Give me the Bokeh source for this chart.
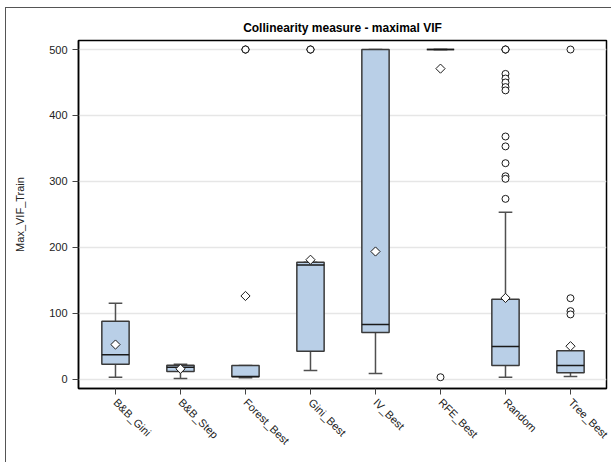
import math
from bokeh.plotting import figure
from bokeh.models import FixedTicker, Range1d, Title
from bokeh.embed import file_html
from bokeh.resources import INLINE

# Box-plot summary of the maximal VIF for each selection method
cats = ["B&B_Gini", "B&B_Step", "Forest_Best", "Gini_Best",
        "IV_Best", "RFE_Best", "Random", "Tree_Best"]
lower = [2.7, 0.8, 2.0, 13.0, 8.3, 500.0, 2.7, 3.8]
q1 = [22.5, 11.4, 3.3, 42.0, 70.6, 500.0, 20.5, 9.4]
median = [37.0, 18.0, 4.0, 173.0, 82.7, 500.0, 49.3, 20.5]
q3 = [87.7, 21.0, 20.5, 177.0, 500.0, 500.0, 121.0, 43.0]
upper = [115.0, 22.5, 20.5, 177.0, 500.0, 500.0, 253.0, 43.0]
mean = [52.3, 15.5, 126.0, 181.0, 193.5, 471.0, 123.0, 49.8]

# Outlying observations per method
outliers = {
    "Forest_Best": [500, 500, 500],
    "Gini_Best": [500, 500, 500],
    "RFE_Best": [2.7],
    "Random": [500, 500, 500, 463, 456, 450, 443, 438,
               368, 353, 327.5, 307.7, 303.8, 273.4],
    "Tree_Best": [500, 122.6, 103, 98],
}
y_ticks = [0, 100, 200, 300, 400, 500]

FONT = "Liberation Sans"
BOX_FILL = "#B9CFE7"
BOX_LINE = "#3A3A3A"
WHISK = "#505050"

xs = list(range(len(cats)))
half_box = 0.21
half_cap = 0.105

p = figure(width=606, height=455, output_backend="svg", toolbar_location=None,
           x_range=Range1d(-0.569, 7.554), y_range=Range1d(-14.4, 513.7),
           min_border_left=72, min_border_right=6, min_border_top=32,
           min_border_bottom=75, background_fill_color="white",
           border_fill_color="white")
p.styles = {"margin-left": "5px", "margin-top": "7px",
            "border-left": "1px solid #555555", "border-top": "1px solid #555555"}

p.title = Title(text="Collinearity measure - maximal VIF", align="center",
                text_font=FONT, text_font_size="12px", text_font_style="bold",
                text_color="black", offset=0, standoff=11)

# whiskers
p.segment(x0=xs, y0=q3, x1=xs, y1=upper, line_color=WHISK, line_width=1.5)
p.segment(x0=xs, y0=q1, x1=xs, y1=lower, line_color=WHISK, line_width=1.5)
p.segment(x0=[x - half_cap for x in xs], y0=upper,
          x1=[x + half_cap for x in xs], y1=upper, line_color=WHISK, line_width=1.5)
p.segment(x0=[x - half_cap for x in xs], y0=lower,
          x1=[x + half_cap for x in xs], y1=lower, line_color=WHISK, line_width=1.5)

# boxes
p.quad(left=[x - half_box for x in xs], right=[x + half_box for x in xs],
       bottom=q1, top=q3, fill_color=BOX_FILL, line_color=BOX_LINE, line_width=1.5)

# medians
p.segment(x0=[x - half_box for x in xs], y0=median,
          x1=[x + half_box for x in xs], y1=median, line_color="#1a1a1a", line_width=1.5)

# outliers
ox, oy = [], []
for name, vals in outliers.items():
    i = cats.index(name)
    for v in vals:
        ox.append(i)
        oy.append(v)
p.scatter(x=ox, y=oy, marker="circle", size=7, fill_color="white",
          line_color="#1a1a1a", line_width=1)

# means as rotated squares
p.scatter(x=xs, y=mean, marker="square", angle=math.pi / 4, size=6.5,
          fill_color="white", line_color="#1a1a1a", line_width=1)

# axes and grid
p.xgrid.grid_line_color = None
p.ygrid.grid_line_color = "#E6E6E6"
p.ygrid.grid_line_width = 1.5
p.ygrid.ticker = FixedTicker(ticks=y_ticks)

p.yaxis.ticker = FixedTicker(ticks=y_ticks)
p.yaxis.axis_label = "Max_VIF_Train"
p.yaxis.axis_label_text_font = FONT
p.yaxis.axis_label_text_font_size = "11px"
p.yaxis.axis_label_text_font_style = "normal"
p.yaxis.axis_label_text_color = "#222222"
p.yaxis.axis_label_standoff = 20

p.xaxis.ticker = FixedTicker(ticks=xs)
p.xaxis.major_label_overrides = {i: c for i, c in enumerate(cats)}
p.xaxis.major_label_orientation = -math.pi / 4
p.xaxis.major_label_standoff = 6

for ax in (p.xaxis, p.yaxis):
    ax.major_label_text_font = FONT
    ax.major_label_text_font_size = "11px"
    ax.major_label_text_color = "#222222"
    ax.minor_tick_line_color = None
    ax.major_tick_in = 0
    ax.major_tick_out = 6
    ax.major_tick_line_color = "#444444"
    ax.axis_line_color = "black"
    ax.axis_line_width = 1.5

p.outline_line_color = "black"
p.outline_line_width = 1.5

open("out.html", "w").write(file_html(p, INLINE))
